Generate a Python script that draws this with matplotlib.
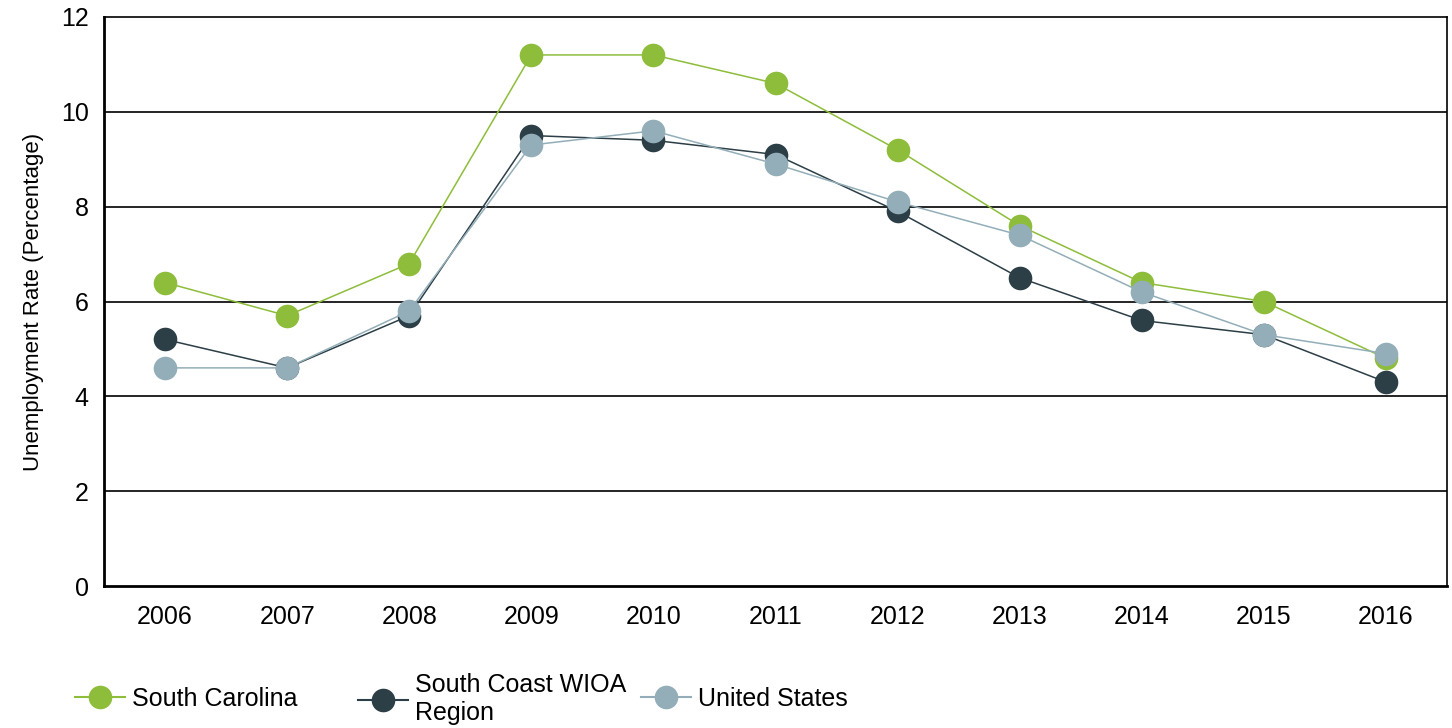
import matplotlib
matplotlib.use("Agg")
import matplotlib.pyplot as plt
from matplotlib.lines import Line2D

plt.rcParams['font.family'] = ['Liberation Sans', 'DejaVu Sans']

years = ["2006", "2007", "2008", "2009", "2010", "2011", "2012", "2013", "2014", "2015", "2016"]
south_carolina = [6.4, 5.7, 6.8, 11.2, 11.2, 10.6, 9.2, 7.6, 6.4, 6.0, 4.8]
south_coast = [5.2, 4.6, 5.7, 9.5, 9.4, 9.1, 7.9, 6.5, 5.6, 5.3, 4.3]
united_states = [4.6, 4.6, 5.8, 9.3, 9.6, 8.9, 8.1, 7.4, 6.2, 5.3, 4.9]
series_names = ["South Carolina", "South Coast WIOA\nRegion", "United States"]
colors = ["#8DBD3A", "#2C3E46", "#93AEB8"]

fig = plt.figure(figsize=(14.52, 7.28), dpi=100)
ax = fig.add_axes([104/1452, 1-586/728, (1447-104)/1452, (586-17)/728])

x = list(range(len(years)))
for vals, c in zip([south_carolina, south_coast, united_states], colors):
    ax.plot(x, vals, color=c, lw=1.1, marker='o', markersize=17,
            markeredgewidth=0, zorder=3)

ax.set_xlim(-0.5, len(years) - 0.5)
ax.set_ylim(0, 12)
ax.set_yticks([0, 2, 4, 6, 8, 10, 12])
ax.set_xticks(x)
ax.set_xticklabels(years)
ax.tick_params(axis='both', length=0, labelsize=18, colors='black')
ax.tick_params(axis='x', pad=14)
ax.tick_params(axis='y', pad=11)
for yv in [2, 4, 6, 8, 10]:
    ax.axhline(yv, color='black', lw=1.2, zorder=1)
for s in ['left', 'bottom']:
    ax.spines[s].set_linewidth(2)
for s in ['top', 'right']:
    ax.spines[s].set_linewidth(1.2)
ax.set_ylabel("Unemployment Rate (Percentage)", fontsize=16)
ax.yaxis.set_label_coords(-60/1343, 0.5)

starts = [82, 365, 648]
for name, c, sx in zip(series_names, colors, starts):
    h = Line2D([], [], color=c, lw=1.5, marker='o', markersize=17, markeredgewidth=0)
    fig.legend(handles=[h], labels=[name], loc='center left',
               bbox_to_anchor=(sx/1452 - 0.005, 1-699/728), frameon=False,
               fontsize=18, handlelength=2.0, handletextpad=0.3,
               borderpad=0, borderaxespad=0, labelspacing=0.1)

fig.savefig("out.png", dpi=100)
